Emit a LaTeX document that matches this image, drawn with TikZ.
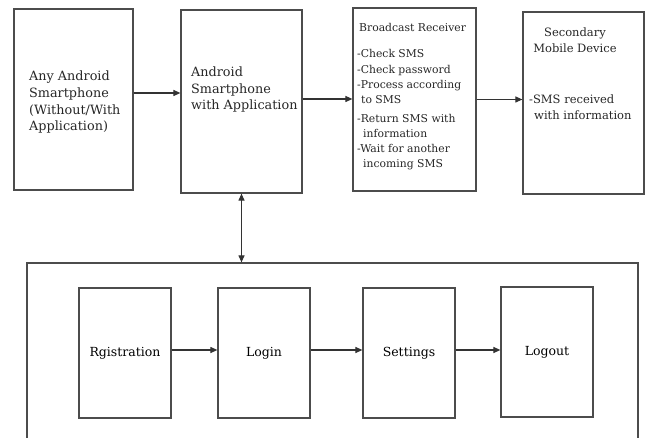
\documentclass[tikz,border=0pt]{standalone}
\usepackage{fontspec}
\setmainfont{DejaVu Serif}
\usetikzlibrary{arrows.meta, positioning, calc}
\tikzset{box/.style={rectangle,draw=black!70,line width=1.2pt,inner sep=0pt},
         frame/.style={rectangle,draw=black!70,line width=1.2pt,inner sep=0pt},
         txt/.style={inner sep=0pt,align=left,text=black!85},
         arrow/.style={-{Triangle[length=7pt,width=6pt]},line width=1.1pt,black!80},
         darrow/.style={{Triangle[length=7pt,width=6pt]}-{Triangle[length=7pt,width=6pt]},line width=1.1pt,black!80}}

\begin{document}
\begin{tikzpicture}[x=1pt,y=-1pt]
    \useasboundingbox (0,0) rectangle (645,438);
    % Devices
    \node (any) at (73.5,99.5) [box,minimum width=119pt,minimum height=181pt]{};
    \node (app) at (241.5,101.5) [box,minimum width=121pt,minimum height=183pt]{};
    \node (recv) at (414.5,99.5) [box,minimum width=123pt,minimum height=183pt]{};
    \node (second) at (583.5,103) [box,minimum width=121pt,minimum height=182pt]{};
    % Texts (anchored at the last baseline)
    \node (anytext) at (29,131) [txt,anchor=base west,font=\fontsize{12.8}{16.7}\selectfont]{Any Android\\Smartphone\\(Without/With\\Application)};
    \node (apptext) at (191,110) [txt,anchor=base west,font=\fontsize{12.8}{16.7}\selectfont]{Android\\Smartphone\\with Application};
    \node (recvtitle) at (359,32) [txt,anchor=base west,font=\fontsize{10.8}{15.3}\selectfont]{Broadcast Receiver};
    \node (recvlist) at (357,168) [txt,anchor=base west,font=\fontsize{10.8}{15.3}\selectfont]{-Check SMS\\-Check password\\-Process according\\\hspace{4pt}to SMS\\[3pt]-Return SMS with\\\hspace{6pt}information\\-Wait for another\\\hspace{6pt}incoming SMS};
    \node (secondtitle) at (575,53) [txt,anchor=base,align=center,font=\fontsize{11.5}{16.5}\selectfont]{Secondary\\Mobile Device};
    \node (secondtext) at (529,120) [txt,anchor=base west,font=\fontsize{11.5}{16.5}\selectfont]{-SMS received\\\hspace{5pt}with information};
    % Application
    \node (outer) at (332.5,356.5) [frame,minimum width=611pt,minimum height=187pt]{};
    \node (reg) at (125,353) [box,minimum width=92pt,minimum height=130pt,font=\fontsize{12.5}{14}\selectfont]{Rgistration};
    \node (login) at (264,353) [box,minimum width=92pt,minimum height=130pt,font=\fontsize{12.5}{14}\selectfont]{Login};
    \node (settings) at (409,353) [box,minimum width=92pt,minimum height=130pt,font=\fontsize{12.5}{14}\selectfont]{Settings};
    \node (logout) at (547,352) [box,minimum width=92pt,minimum height=130pt,font=\fontsize{12.5}{14}\selectfont]{Logout};
    % Arrows
    \draw[arrow] ([yshift=6.5pt]any.east) -- ([yshift=6.5pt]any.east -| app.west);
    \draw[arrow] ([yshift=2.5pt]app.east) -- ([yshift=2.5pt]app.east -| recv.west);
    \draw[arrow] (recv.east) -- (recv.east -| second.west);
    \draw[darrow] (app.south) -- (app.south |- outer.north);
    \draw[arrow] ([yshift=3pt]reg.east) -- ([yshift=3pt]reg.east -| login.west);
    \draw[arrow] ([yshift=3pt]login.east) -- ([yshift=3pt]login.east -| settings.west);
    \draw[arrow] ([yshift=3pt]settings.east) -- ([yshift=3pt]settings.east -| logout.west);
\end{tikzpicture}
\end{document}
